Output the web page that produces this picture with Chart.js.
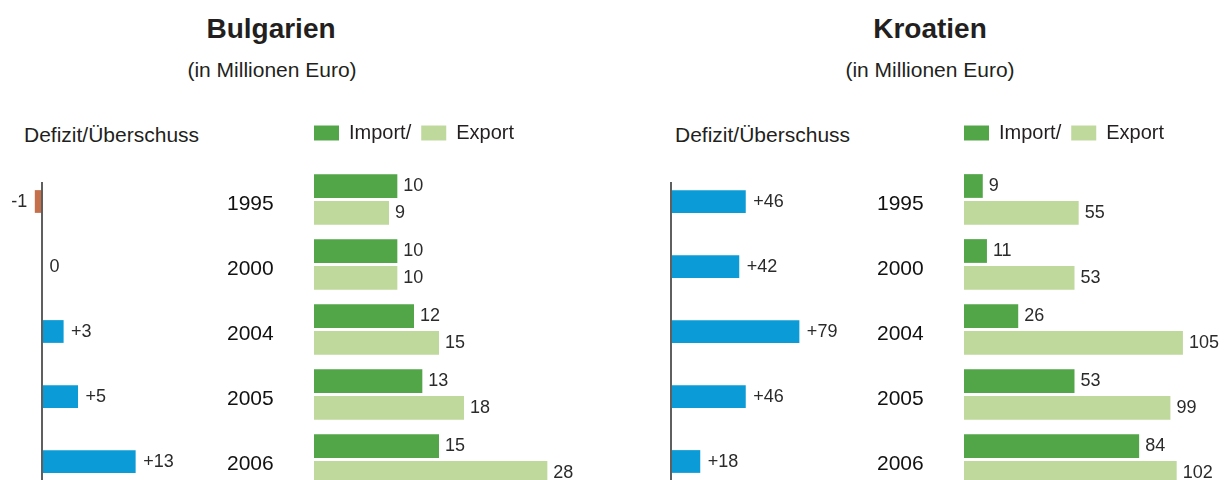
<!DOCTYPE html>
<html>
<head>
<meta charset="utf-8">
<script src="https://cdn.jsdelivr.net/npm/chart.js@4.4.1/dist/chart.umd.min.js"></script>
<style>
html,body{margin:0;padding:0;background:#fff;overflow:hidden;width:1226px;height:480px;}
body{position:relative;font-family:"Liberation Sans",Arial,Helvetica,sans-serif;}
.t{position:absolute;white-space:nowrap;line-height:1;color:#231f20;}
.title{font-weight:bold;font-size:28px;transform:translateX(-50%);}
.sub{font-size:21px;transform:translateX(-50%);}
.lab{font-size:21px;}
canvas{position:absolute;}
</style>
</head>
<body>
<div class="t title" style="left:271px;top:14.5px">Bulgarien</div>
<div class="t sub" style="left:272px;top:59px">(in Millionen Euro)</div>
<div class="t lab" style="left:24px;top:124px">Defizit/Überschuss</div>

<div class="t title" style="left:930px;top:14.5px">Kroatien</div>
<div class="t sub" style="left:930px;top:59px">(in Millionen Euro)</div>
<div class="t lab" style="left:675px;top:124px">Defizit/Überschuss</div>

<canvas id="bgDef" width="292" height="325" style="left:6px;top:169px"></canvas>
<canvas id="bgTrade" width="300" height="379" style="left:304px;top:113px"></canvas>
<canvas id="hrDef" width="290" height="325" style="left:658px;top:169px"></canvas>
<canvas id="hrTrade" width="272" height="379" style="left:954px;top:113px"></canvas>

<script>
// ---- data ----
const years = ['1995', '2000', '2004', '2005', '2006'];
const bgBalance = [-1, 0, 3, 5, 13];
const bgImport = [10, 10, 12, 13, 15];
const bgExport = [9, 10, 15, 18, 28];
const hrBalance = [46, 42, 79, 46, 18];
const hrImport = [9, 11, 26, 53, 84];
const hrExport = [55, 53, 105, 99, 102];
const legendLabels = ['Import/', 'Export'];

// ---- styles ----
const COL_POS = '#0b9bd6';
const COL_NEG = '#c5704a';
const COL_IMP = '#52a648';
const COL_EXP = '#bfd89b';
const FONT = '"Liberation Sans", Arial, Helvetica, sans-serif';

Chart.defaults.font.family = FONT;
Chart.defaults.animation = false;

const valueLabels = {
  id: 'valueLabels',
  afterDatasetsDraw(chart, args, opts) {
    const ctx = chart.ctx;
    ctx.save();
    ctx.font = '18px ' + FONT;
    ctx.fillStyle = '#2b2b2b';
    ctx.textBaseline = 'middle';
    chart.data.datasets.forEach((ds, di) => {
      const meta = chart.getDatasetMeta(di);
      meta.data.forEach((bar, i) => {
        const v = ds.data[i];
        const text = opts.signed ? (v > 0 ? '+' + v : String(v)) : String(v);
        if (v < 0) {
          ctx.textAlign = 'right';
          ctx.fillText(text, bar.x - opts.gap, bar.y + 0.5);
        } else {
          ctx.textAlign = 'left';
          ctx.fillText(text, bar.x + opts.gap, bar.y + 0.5);
        }
      });
    });
    ctx.restore();
  }
};

const zeroLine = {
  id: 'zeroLine',
  afterDatasetsDraw(chart) {
    const ctx = chart.ctx;
    const x = chart.scales.x.getPixelForValue(0);
    const top = chart.scales.y.getPixelForValue(0) - 19.5;
    ctx.save();
    ctx.fillStyle = '#5f5f5f';
    ctx.fillRect(x - 1, top, 2, chart.chartArea.bottom - top);
    ctx.restore();
  }
};

function balanceChart(id, values, xmin, xmax) {
  return new Chart(document.getElementById(id), {
    type: 'bar',
    data: {
      labels: years,
      datasets: [{
        data: values,
        backgroundColor: values.map(v => v < 0 ? COL_NEG : COL_POS),
        borderWidth: 0,
        barPercentage: 0.35,
        categoryPercentage: 1
      }]
    },
    options: {
      indexAxis: 'y',
      responsive: false,
      maintainAspectRatio: false,
      layout: { padding: 0 },
      scales: {
        x: { type: 'linear', min: xmin, max: xmax, display: false },
        y: {
          type: 'category',
          position: 'right',
          grid: { display: false, drawTicks: false },
          border: { display: false },
          ticks: { font: { size: 21 }, color: '#111', padding: 19, labelOffset: 2.5, crossAlign: 'near' },
          afterFit: s => { s.width = 90; s.paddingTop = 0; s.paddingBottom = 0; }
        }
      },
      plugins: {
        legend: { display: false },
        tooltip: { enabled: false },
        valueLabels: { signed: true, gap: 7.5 }
      }
    },
    plugins: [zeroLine, valueLabels]
  });
}

function tradeChart(id, imp, exp, xmin, xmax) {
  return new Chart(document.getElementById(id), {
    type: 'bar',
    data: {
      labels: years,
      datasets: [
        { label: legendLabels[0], data: imp, backgroundColor: COL_IMP, borderWidth: 0, barPercentage: 0.88, categoryPercentage: 0.83 },
        { label: legendLabels[1], data: exp, backgroundColor: COL_EXP, borderWidth: 0, barPercentage: 0.88, categoryPercentage: 0.83 }
      ]
    },
    options: {
      indexAxis: 'y',
      responsive: false,
      maintainAspectRatio: false,
      layout: { padding: 0 },
      scales: {
        x: {
          type: 'linear', min: xmin, max: xmax, position: 'top',
          ticks: { display: false },
          grid: { display: false, drawTicks: false },
          border: { display: false },
          afterFit: s => { s.height = 14; }
        },
        y: { type: 'category', display: false }
      },
      plugins: {
        legend: {
          display: true, position: 'top', align: 'start',
          labels: { boxWidth: 25, boxHeight: 15, padding: 10, color: '#231f20', font: { size: 20 } }
        },
        tooltip: { enabled: false },
        valueLabels: { signed: false, gap: 6 }
      }
    },
    plugins: [valueLabels]
  });
}

balanceChart('bgDef', bgBalance, -5, 23.05);
tradeChart('bgTrade', bgImport, bgExport, -1.2, 34.8);
balanceChart('hrDef', hrBalance, -8, 115.08);
tradeChart('hrTrade', hrImport, hrExport, -4.8, 125.66);
</script>
</body>
</html>
